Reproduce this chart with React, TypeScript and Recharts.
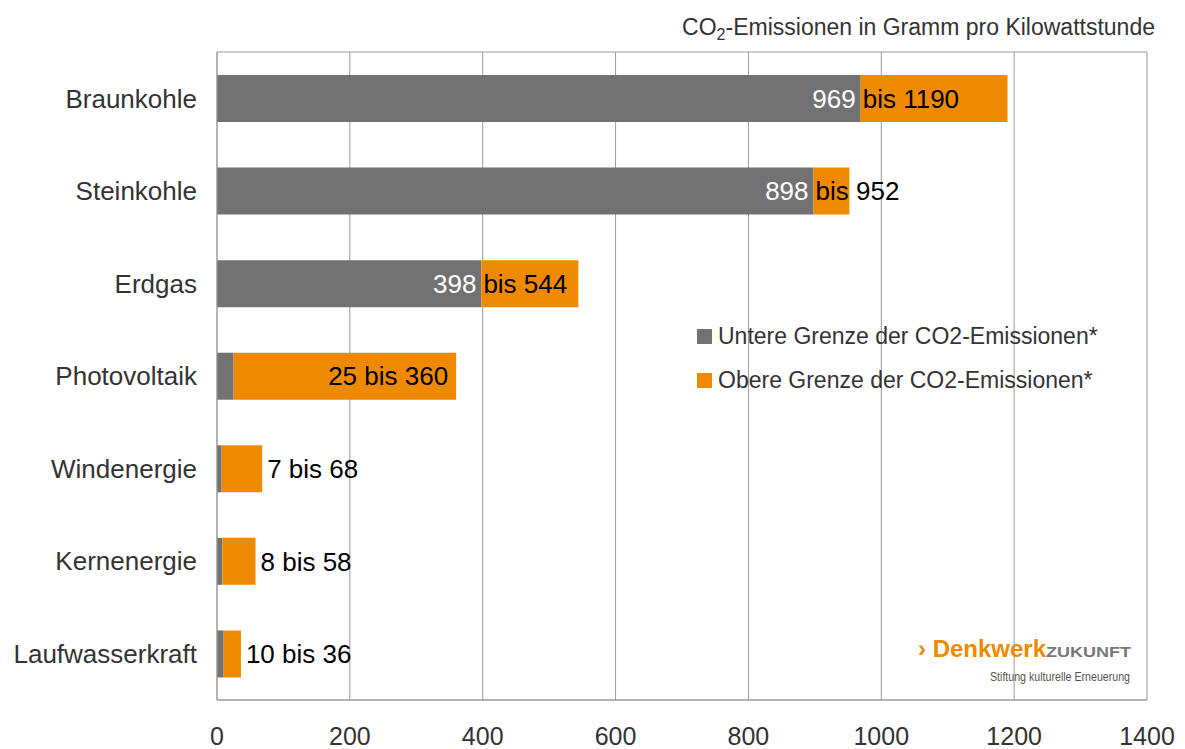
import React from 'react';
import { BarChart, Bar, XAxis, YAxis, CartesianGrid, LabelList, Legend } from 'recharts';

const categories = ['Braunkohle', 'Steinkohle', 'Erdgas', 'Photovoltaik', 'Windenergie', 'Kernenergie', 'Laufwasserkraft'];
const lowerValues = [969, 898, 398, 25, 7, 8, 10];
const upperValues = [1190, 952, 544, 360, 68, 58, 36];
const xTicks = [0, 200, 400, 600, 800, 1000, 1200, 1400];
const seriesNames = ['Untere Grenze der CO2-Emissionen*', 'Obere Grenze der CO2-Emissionen*'];

const GRAY = '#727272';
const ORANGE = '#EF8A00';
const GRID = '#9a9a9a';
const TEXT = '#333333';
const FONT = '"Liberation Sans", Arial, Helvetica, sans-serif';
const seriesColors = [GRAY, ORANGE];

const data = categories.map((name, i) => ({
  name,
  lower: lowerValues[i],
  range: upperValues[i] - lowerValues[i],
}));

const BarLabel = (props: any) => {
  const { x, y, width, height, value } = props;
  const i = categories.indexOf(value);
  if (i < 0) return null;
  const lower = lowerValues[i];
  const upper = upperValues[i];
  const cy = y + height / 2;
  const pxPerUnit = width / (upper - lower);
  const grayWidth = lower * pxPerUnit;
  const common = { fontSize: 26, fontFamily: FONT, dy: '0.355em' } as any;
  if (grayWidth > 60) {
    return (
      <g>
        <text x={x - 5} y={cy} textAnchor="end" fill="#ffffff" {...common}>{lower}</text>
        <text x={x + 2} y={cy} textAnchor="start" fill="#000000" {...common}>{`bis ${upper}`}</text>
      </g>
    );
  }
  if (width > 150) {
    return (
      <text x={x + width - 8} y={cy} textAnchor="end" fill="#000000" {...common}>{`${lower} bis ${upper}`}</text>
    );
  }
  return (
    <text x={x + width + 5} y={cy} textAnchor="start" fill="#000000" {...common}>{`${lower} bis ${upper}`}</text>
  );
};

const LegendContent = () => {
  return (
    <div style={{ fontFamily: FONT, fontSize: 23, color: TEXT }}>
      {seriesNames.map((n, i) => (
        <div key={i} style={{ display: 'flex', alignItems: 'center', height: 44, whiteSpace: 'nowrap' }}>
          <span style={{ display: 'inline-block', width: 15, height: 15, background: seriesColors[i], marginRight: 6 }} />
          <span>{n}</span>
        </div>
      ))}
    </div>
  );
};

export default function App() {
  return (
    <div style={{ position: 'absolute', left: 0, top: 0, width: 1185, height: 749, background: '#ffffff' }}>
      <BarChart
        width={1185}
        height={749}
        data={data}
        layout="vertical"
        margin={{ top: 52, right: 38, bottom: 0, left: 0 }}
        barSize={47}
      >
        <CartesianGrid
          stroke={GRID}
          vertical={true}
          horizontal={true}
          horizontalPoints={[52, 700]}
        />
        <XAxis
          type="number"
          domain={[0, 1400]}
          ticks={xTicks}
          interval={0}
          height={49}
          axisLine={{ stroke: GRID }}
          tickLine={false}
          tickSize={0}
          tickMargin={27}
          tick={{ fontSize: 25, fill: TEXT, fontFamily: FONT }}
        />
        <YAxis
          type="category"
          dataKey="name"
          width={217}
          axisLine={{ stroke: GRID }}
          tickLine={false}
          tickSize={0}
          tickMargin={20}
          interval={0}
          tick={{ fontSize: 26, fill: TEXT, fontFamily: FONT }}
        />
        <Legend
          layout="vertical"
          align="center"
          verticalAlign="middle"
          wrapperStyle={{ position: 'absolute', left: 697, top: 314, width: 'auto', height: 'auto' }}
          content={<LegendContent />}
        />
        <Bar dataKey="lower" name={seriesNames[0]} stackId="a" fill={GRAY} isAnimationActive={false} />
        <Bar dataKey="range" name={seriesNames[1]} stackId="a" fill={ORANGE} isAnimationActive={false}>
          <LabelList dataKey="name" content={<BarLabel />} />
        </Bar>
      </BarChart>
      <svg width={1185} height={749} style={{ position: 'absolute', left: 0, top: 0, pointerEvents: 'none' }}>
        <text x={1155} y={35} textAnchor="end" fontSize={23} fill={TEXT} fontFamily={FONT}>
          CO<tspan fontSize={16} dy={5}>2</tspan><tspan dy={-5}>-Emissionen in Gramm pro Kilowattstunde</tspan>
        </text>
        <text x={918} y={657} fontSize={23} fontWeight="bold" fill={ORANGE} fontFamily={FONT} textLength={128} lengthAdjust="spacingAndGlyphs">
          › Denkwerk
        </text>
        <text x={1046} y={657} fontSize={15} fontWeight="bold" fill="#777777" fontFamily={FONT} textLength={85} lengthAdjust="spacingAndGlyphs">
          ZUKUNFT
        </text>
        <text x={990} y={681} fontSize={12} fill="#555555" fontFamily={FONT} textLength={140} lengthAdjust="spacingAndGlyphs">
          Stiftung kulturelle Erneuerung
        </text>
      </svg>
    </div>
  );
}
